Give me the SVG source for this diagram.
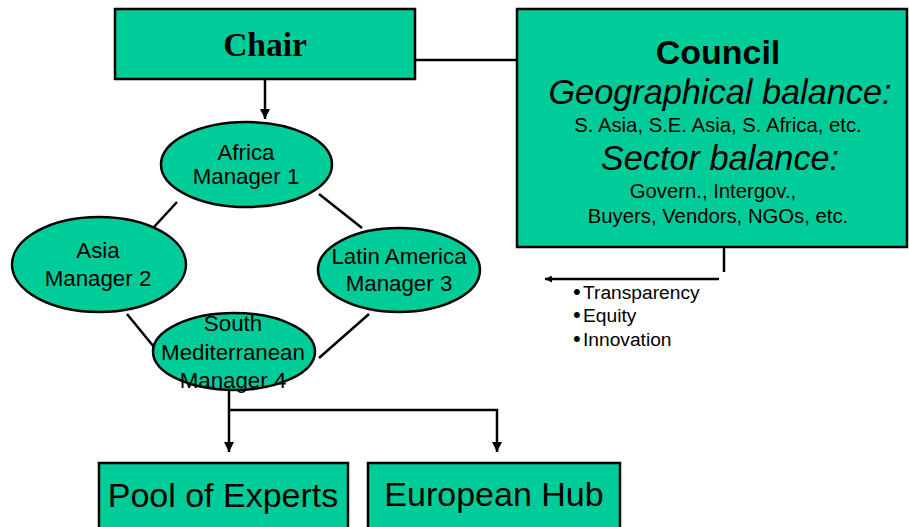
<svg xmlns="http://www.w3.org/2000/svg" width="909" height="527" viewBox="0 0 909 527">
<style>
.box{fill:#00cc99;stroke:#000;stroke-width:2.5}
.ell{fill:#00cc99;stroke:#000;stroke-width:2.5}
.ln{fill:none;stroke:#000;stroke-width:2.5}
text{font-family:"Liberation Sans",Arial,sans-serif;fill:#000;text-anchor:middle}
.m{font-size:22.3px}
.c{font-size:20.3px}
.big{font-size:34px}
.it{font-size:34.3px;font-style:italic}
.b{font-size:19.2px;text-anchor:start}
.dot{font-size:22px}
</style>
<defs>
<marker id="ah" viewBox="0 0 10 10" refX="10" refY="5" markerWidth="10" markerHeight="10" markerUnits="userSpaceOnUse" orient="auto">
<path d="M0,0 L10,5 L0,10 z" fill="#000"/>
</marker>
<marker id="ahs" viewBox="0 0 10 10" refX="10" refY="5" markerWidth="8" markerHeight="7" markerUnits="userSpaceOnUse" orient="auto">
<path d="M0,0 L10,5 L0,10 z" fill="#000"/>
</marker>
</defs>
<g id="connectors">
<line class="ln" x1="415" y1="60" x2="518" y2="60"/>
<line class="ln" x1="265" y1="79" x2="265" y2="119" marker-end="url(#ah)"/>
<line class="ln" x1="177" y1="202" x2="154" y2="227"/>
<line class="ln" x1="319" y1="194" x2="362" y2="228"/>
<line class="ln" x1="127" y1="314" x2="154" y2="347"/>
<line class="ln" x1="369" y1="314" x2="319" y2="358"/>
<polyline class="ln" points="229,390 229,452" marker-end="url(#ah)"/>
<polyline class="ln" points="229,410 497,410 497,452" marker-end="url(#ah)"/>
<line class="ln" x1="724" y1="247" x2="724" y2="272"/>
<line class="ln" x1="719" y1="279" x2="545" y2="279" marker-end="url(#ahs)"/>
</g>
<g id="chair">
<rect class="box" x="115" y="9" width="300" height="70"/>
<text x="265" y="56" style="font-family:'Liberation Serif','Times New Roman',serif;font-weight:bold;font-size:33.5px">Chair</text>
</g>
<g id="council">
<rect class="box" x="517" y="9" width="390" height="238"/>
<text x="718" y="64" style="font-weight:bold;font-size:34px">Council</text>
<text class="it" x="720" y="104">Geographical balance:</text>
<text class="c" x="718" y="132">S. Asia, S.E. Asia, S. Africa, etc.</text>
<text class="it" x="720" y="170">Sector balance:</text>
<text class="c" x="713" y="198">Govern., Intergov.,</text>
<text class="c" x="718" y="223">Buyers, Vendors, NGOs, etc.</text>
</g>
<g id="values">
<text class="b" x="573" y="299"><tspan class="dot">•</tspan><tspan x="583">Transparency</tspan></text>
<text class="b" x="573" y="322"><tspan class="dot">•</tspan><tspan x="583">Equity</tspan></text>
<text class="b" x="573" y="346"><tspan class="dot">•</tspan><tspan x="583">Innovation</tspan></text>
</g>
<g id="africa">
<ellipse class="ell" cx="246.5" cy="164.5" rx="85.5" ry="42.5"/>
<text class="m" x="246" y="160">Africa</text>
<text class="m" x="246" y="184">Manager 1</text>
</g>
<g id="asia">
<ellipse class="ell" cx="99" cy="264.5" rx="87" ry="47.5"/>
<text class="m" x="98" y="258">Asia</text>
<text class="m" x="98" y="286">Manager 2</text>
</g>
<g id="latin-america">
<ellipse class="ell" cx="399" cy="270" rx="81" ry="42"/>
<text class="m" x="399" y="264">Latin America</text>
<text class="m" x="399" y="291">Manager 3</text>
</g>
<g id="south-mediterranean">
<ellipse class="ell" cx="234" cy="351.5" rx="81" ry="38.5"/>
<text class="m" x="233" y="331">South</text>
<text class="m" x="233" y="360">Mediterranean</text>
<text class="m" x="233" y="388">Manager 4</text>
</g>
<g id="pool-of-experts">
<rect class="box" x="99" y="463" width="249" height="70"/>
<text class="big" x="223" y="507">Pool of Experts</text>
</g>
<g id="european-hub">
<rect class="box" x="368" y="463" width="252" height="70"/>
<text class="big" x="494" y="506">European Hub</text>
</g>
</svg>
